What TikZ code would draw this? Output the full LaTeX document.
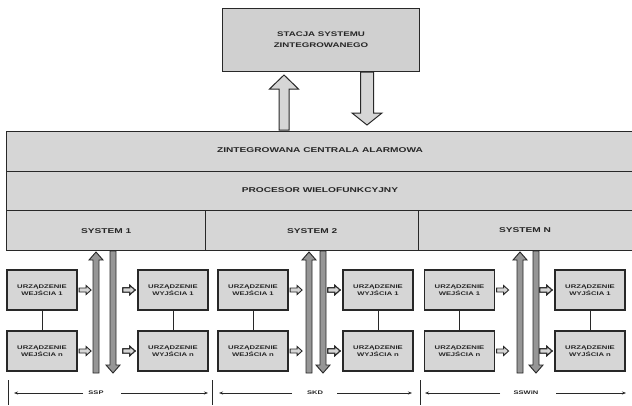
\documentclass[tikz,border=0pt]{standalone}
\usepackage{fontspec}
\usetikzlibrary{arrows.meta,calc}
\newfontfamily\wfont[FakeStretch=1.45]{Liberation Sans}
\definecolor{boxgray}{RGB}{214,214,214}
\definecolor{topgray}{RGB}{208,208,208}
\definecolor{busgray}{RGB}{150,150,150}
\definecolor{linec}{RGB}{40,40,40}
\newcommand\hblk[2]{% start point, length (pointing right)
  \draw[smallarr] #1 ++(0,-2) -- ++(#2-5,0) -- ++(0,-2.5) -- ++(5,4.5) -- ++(-5,4.5) -- ++(0,-2.5) -- ++(-#2+5,0) -- cycle;}
\newcommand\uparr[7]{% style, x, ybottom, ytip, halfshaft, halfhead, headlen
  \draw[#1] (#2-#5,#3) -- (#2-#5,#4+#7) -- (#2-#6,#4+#7) -- (#2,#4) -- (#2+#6,#4+#7) -- (#2+#5,#4+#7) -- (#2+#5,#3) -- cycle;}
\newcommand\downarr[7]{% style, x, ytop, ytip, halfshaft, halfhead, headlen
  \draw[#1] (#2-#5,#3) -- (#2-#5,#4-#7) -- (#2-#6,#4-#7) -- (#2,#4) -- (#2+#6,#4-#7) -- (#2+#5,#4-#7) -- (#2+#5,#3) -- cycle;}
\tikzset{
  box/.style={draw=linec, line width=1.2pt, fill=boxgray},
  mainlbl/.style={font=\wfont\bfseries\fontsize{7}{8}\selectfont, text=black!85},
  band/.style={box, minimum width=640, minimum height=39.5, inner sep=0, mainlbl},
  sysbox/.style={box, minimum height=40, inner sep=0, mainlbl},
  dev/.style={box, minimum width=70, minimum height=40, inner sep=0, align=center,
    font=\wfont\bfseries\fontsize{5.3}{7}\selectfont, text=black!85},
  smallarr/.style={draw=linec, line width=0.9pt, fill=boxgray},
  busarr/.style={draw=linec, line width=0.9pt, fill=busgray},
  bigarr/.style={draw=linec, line width=1pt, fill=boxgray},
  link/.style={draw=linec, line width=0.8pt},
  dim/.style={draw=linec, line width=0.8pt, -{Stealth[length=4pt,width=3pt]}},
  tick/.style={draw=linec, line width=1pt},
  dimlbl/.style={font=\wfont\bfseries\fontsize{5.2}{6}\selectfont, text=black!85, fill=white, inner sep=1pt}
}
\begin{document}
\begin{tikzpicture}[x=1pt,y=-1pt]
\useasboundingbox[fill=white] (0,0) rectangle (632,405);
% top station
\node[box, fill=topgray, minimum width=197, minimum height=63, inner sep=0, align=center,
  font=\wfont\bfseries\fontsize{6.7}{11}\selectfont, text=black!85] (stacja) at (321,40)
  {STACJA SYSTEMU\\ZINTEGROWANEGO};
% bands
\node[band, anchor=north west] (zca) at (6,131) {};
\node[mainlbl] at (320,150.5) {ZINTEGROWANA CENTRALA ALARMOWA};
\node[band, anchor=north west] (proc) at (6,170.5) {};
\node[mainlbl] at (320,190) {PROCESOR WIELOFUNKCYJNY};
% big arrows between station and central
\uparr{bigarr}{284}{130}{75}{5}{14.5}{14}
\downarr{bigarr}{367}{72}{125}{6.5}{15}{12}
% systems
\node[sysbox, minimum width=199, anchor=north west] (sys1) at (6,210) {SYSTEM 1};
\node[sysbox, minimum width=213, anchor=north west] (sys2) at (205,210) {SYSTEM 2};
\node[sysbox, minimum width=230, anchor=north west] (sysn) at (418,210) {};
\node[mainlbl] at (525,230) {SYSTEM N};
% devices
\node[dev] (in1a) at (42,290) {URZĄDZENIE\\WEJŚCIA 1};
\node[dev] (in1b) at (42,351) {URZĄDZENIE\\WEJŚCIA n};
\node[dev] (out1a) at (173,290) {URZĄDZENIE\\WYJŚCIA 1};
\node[dev] (out1b) at (173,351) {URZĄDZENIE\\WYJŚCIA n};
\node[dev] (in2a) at (253,290) {URZĄDZENIE\\WEJŚCIA 1};
\node[dev] (in2b) at (253,351) {URZĄDZENIE\\WEJŚCIA n};
\node[dev] (out2a) at (378,290) {URZĄDZENIE\\WYJŚCIA 1};
\node[dev] (out2b) at (378,351) {URZĄDZENIE\\WYJŚCIA n};
\node[dev] (in3a) at (459.5,290) {URZĄDZENIE\\WEJŚCIA 1};
\node[dev] (in3b) at (459.5,351) {URZĄDZENIE\\WEJŚCIA n};
\node[dev] (out3a) at (590,290) {URZĄDZENIE\\WYJŚCIA 1};
\node[dev] (out3b) at (590,351) {URZĄDZENIE\\WYJŚCIA n};
\foreach \a/\b in {in1a/in1b,out1a/out1b,in2a/in2b,out2a/out2b,in3a/in3b,out3a/out3b}
  \draw[link] (\a) -- (\b);
% bus arrows
\uparr{busarr}{96}{373}{252}{3}{7}{8}
\downarr{busarr}{113}{251}{373}{3}{7}{8}
\uparr{busarr}{309}{373}{252}{3}{7}{8}
\downarr{busarr}{323}{251}{373}{3}{7}{8}
\uparr{busarr}{520}{373}{252}{3}{7}{8}
\downarr{busarr}{536}{251}{373}{3}{7}{8}
% small arrows
\foreach \n in {in1a,in1b,in2a,in2b,in3a,in3b}
  \hblk{($(\n.east)+(1.5,0)$)}{12}
\foreach \n in {out1a,out1b,out2a,out2b,out3a,out3b}
  \hblk{($(\n.west)+(-14.5,0)$)}{12}
% dimension line
\foreach \i/\x in {t0/8,t1/212,t2/420}{
  \coordinate (\i a) at (\x,380);
  \coordinate (\i b) at (\x,405);
  \draw[tick] (\i a) -- (\i b);
}
\coordinate (d1l) at (14,393); \coordinate (d1r) at (208,393);
\coordinate (d2l) at (219,393); \coordinate (d2r) at (412,393);
\coordinate (d3l) at (425,393); \coordinate (d3r) at (626,393);
\coordinate (s1l) at (83,393); \coordinate (s1r) at (121,393);
\coordinate (s2l) at (292,393); \coordinate (s2r) at (337,393);
\coordinate (s3l) at (500,393); \coordinate (s3r) at (556,393);
\draw[dim] (s1l) -- (d1l);
\draw[dim] (s1r) -- (d1r);
\draw[dim] (s2l) -- (d2l);
\draw[dim] (s2r) -- (d2r);
\draw[dim] (s3l) -- (d3l);
\draw[dim] (s3r) -- (d3r);
\node[dimlbl] (ssp) at (96,393) {SSP};
\node[dimlbl] (skd) at (315,393) {SKD};
\node[dimlbl] (sswin) at (526,393) {SSWiN};
\end{tikzpicture}
\end{document}
